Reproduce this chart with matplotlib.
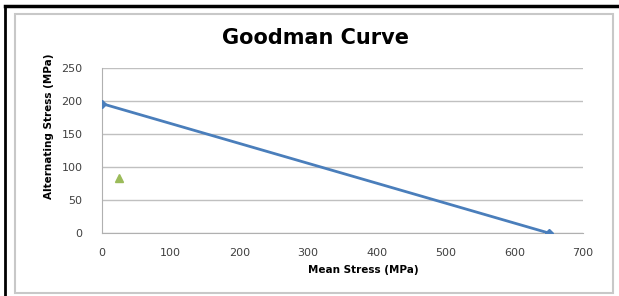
import matplotlib
matplotlib.use("Agg")
import matplotlib.pyplot as plt
from matplotlib.patches import Rectangle

# Goodman line end points and the operating point
mean_stress = [0, 650]
alt_stress = [196, 0]
point_mean = [25]
point_alt = [83]

xticks = [0, 100, 200, 300, 400, 500, 600, 700]
yticks = [0, 50, 100, 150, 200, 250]

fig = plt.figure(figsize=(6.19, 2.96), dpi=100)
W, H = 619, 296

# outer black frame (top and left) and grey chart border
fig.add_artist(plt.Line2D([5 / W, 1], [1 - 6 / H, 1 - 6 / H], color="black", lw=2.5, transform=fig.transFigure))
fig.add_artist(plt.Line2D([5 / W, 5 / W], [0, 1 - 6 / H], color="black", lw=2, transform=fig.transFigure))
fig.add_artist(Rectangle((15 / W, 3 / H), 598 / W, 279 / H, transform=fig.transFigure,
                         fill=False, edgecolor="#c8c8c8", lw=1.5))

ax = fig.add_axes([102 / W, 63 / H, 481 / W, 165 / H])
ax.plot(mean_stress, alt_stress, color="#4a7ebb", lw=2, marker="D", markersize=4, zorder=3)
ax.plot(point_mean, point_alt, linestyle="none", marker="^", color="#9bbb59", markersize=6, zorder=3)

ax.set_xlim(0, 700)
ax.set_ylim(0, 250)
ax.set_xticks(xticks)
ax.set_yticks(yticks)
ax.grid(axis="y", color="#c0c0c0", lw=1)
ax.set_axisbelow(True)
for s in ["top", "right"]:
    ax.spines[s].set_visible(False)
for s in ["left", "bottom"]:
    ax.spines[s].set_color("#b0b0b0")
ax.tick_params(axis="y", length=0, labelsize=8, colors="#404040", pad=14)
ax.tick_params(axis="x", length=0, labelsize=8, colors="#404040", pad=11)

fig.text(315 / W, 1 - 38 / H, "Goodman Curve", fontsize=15, fontweight="bold", ha="center", va="center")
fig.text(363 / W, 1 - 270 / H, "Mean Stress (MPa)", fontsize=7.5, fontweight="bold", ha="center", va="center")
fig.text(49 / W, 1 - 126 / H, "Alternating Stress (MPa)", fontsize=7.5, fontweight="bold",
         ha="center", va="center", rotation=90)

fig.savefig("out.png", dpi=100)
